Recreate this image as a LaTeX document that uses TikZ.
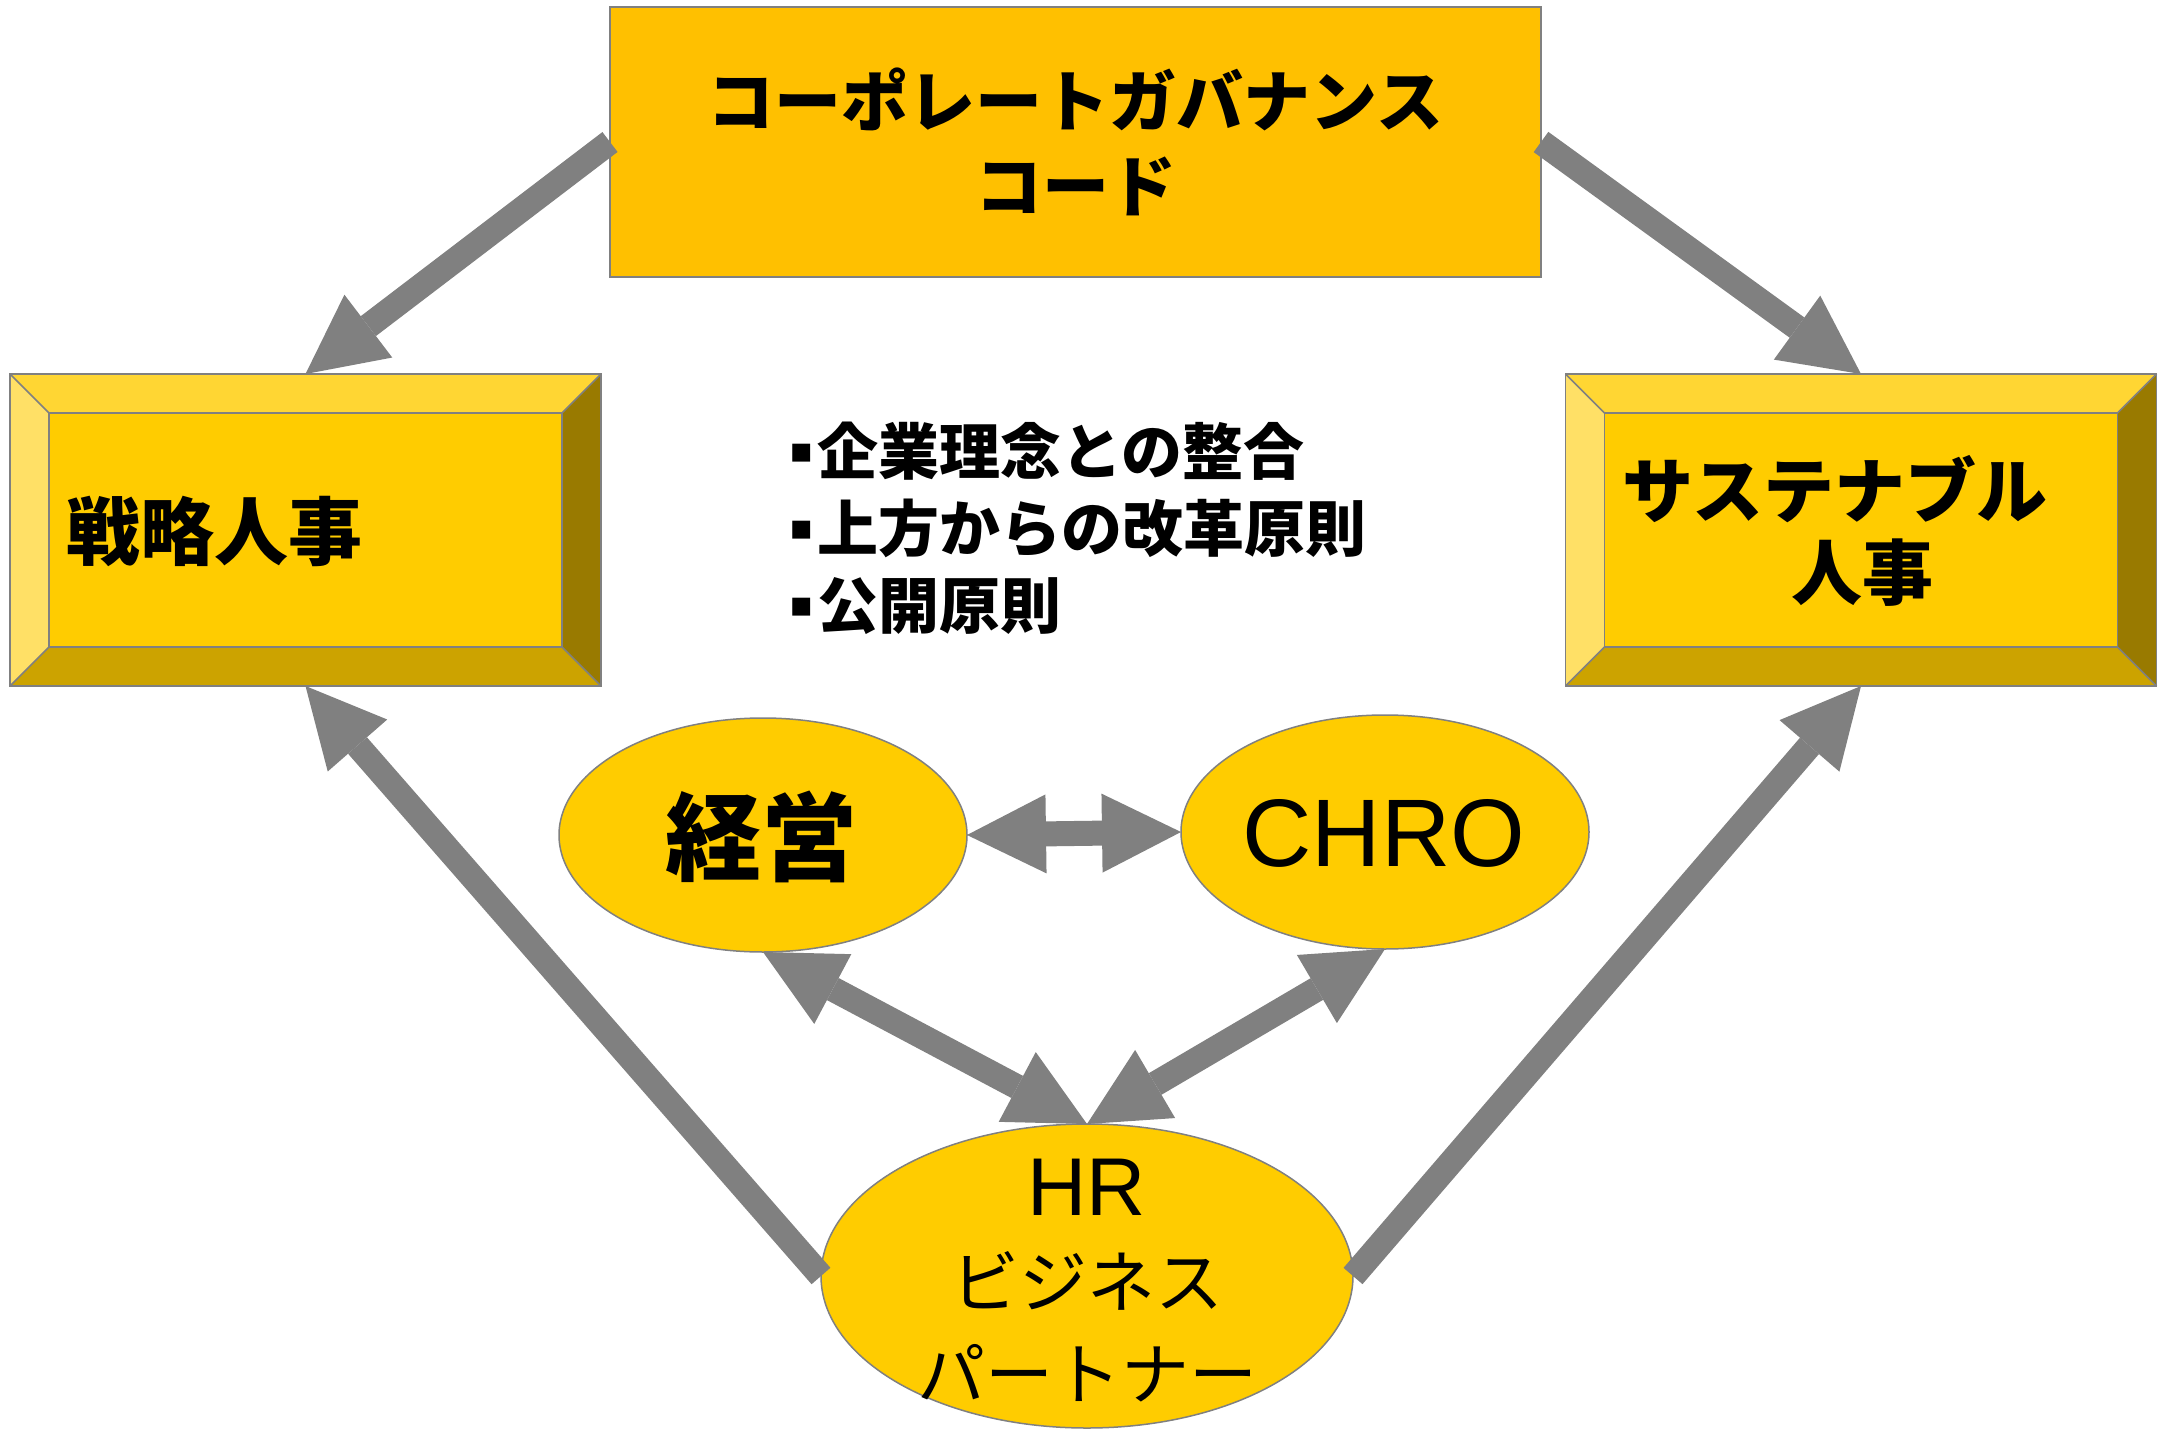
\documentclass[tikz,border=0pt]{standalone}
\usepackage{fontspec}
\usetikzlibrary{arrows.meta,shapes.geometric}
\newfontfamily\jp{Noto Sans CJK JP}
\newfontfamily\ar{Liberation Sans}
\newfontfamily\dv{DejaVu Sans}
\definecolor{gold}{HTML}{FFC000}
\definecolor{ylw}{HTML}{FFCC00}
\definecolor{bvtop}{HTML}{FFD633}
\definecolor{bvleft}{HTML}{FFE066}
\definecolor{bvbot}{HTML}{CCA300}
\definecolor{bvright}{HTML}{997A00}
\definecolor{edgegray}{HTML}{808080}
\definecolor{arrowgray}{HTML}{808080}
\newcommand\bul{\raisebox{12pt}{\dv\fontsize{36}{36}\selectfont ▪}\hspace{4pt}}
\newcommand\bevelbox[1]{%
  \fill[bvtop] (#1.north west) -- (#1.north east) -- ([shift={(-39,39)}]#1.north east) -- ([shift={(39,39)}]#1.north west) -- cycle;
  \fill[bvright] (#1.north east) -- (#1.south east) -- ([shift={(-39,-39)}]#1.south east) -- ([shift={(-39,39)}]#1.north east) -- cycle;
  \fill[bvbot] (#1.south east) -- (#1.south west) -- ([shift={(39,-39)}]#1.south west) -- ([shift={(-39,-39)}]#1.south east) -- cycle;
  \fill[bvleft] (#1.south west) -- (#1.north west) -- ([shift={(39,39)}]#1.north west) -- ([shift={(39,-39)}]#1.south west) -- cycle;
  \draw[edgeline] ([shift={(39,39)}]#1.north west) rectangle ([shift={(-39,-39)}]#1.south east);
  \draw[edgeline] (#1.north west) -- ([shift={(39,39)}]#1.north west)
                  (#1.north east) -- ([shift={(-39,39)}]#1.north east)
                  (#1.south west) -- ([shift={(39,-39)}]#1.south west)
                  (#1.south east) -- ([shift={(-39,-39)}]#1.south east);
  \draw[edgeline] (#1.north west) rectangle (#1.south east);
}
\begin{document}
\begin{tikzpicture}[x=1pt,y=-1pt,
  edgeline/.style={draw=edgegray, line width=1.5pt},
  plainbox/.style={rectangle, draw=edgegray, line width=1.5pt, inner sep=0pt, outer sep=0pt},
  bev/.style={plainbox, fill=ylw, minimum width=591pt, minimum height=312pt},
  oval/.style={ellipse, draw=edgegray, line width=1.5pt, fill=ylw, inner sep=0pt, outer sep=0pt},
  tipshape/.style={},
  arr/.style={draw=arrowgray, line width=25pt, -{Triangle[length=79pt,width=79pt,line width=0pt]}},
  darr/.style={draw=arrowgray, line width=25pt, {Triangle[length=79pt,width=79pt,line width=0pt]}-{Triangle[length=79pt,width=79pt,line width=0pt]}},
  txt/.style={inner sep=0pt, outer sep=0pt}
]
\fill[white] (0,0) rectangle (2163,1431);
\path[use as bounding box] (0,0) rectangle (2163,1431);

% bevel boxes
\node[bev] (senryaku) at (305.5,530) {};
\bevelbox{senryaku}
\node[bev] (sus) at (1861,530) {};
\bevelbox{sus}

% ellipses
\node[oval, minimum width=408pt, minimum height=234pt] (keiei) at (763,835) {};
\node[oval, minimum width=408pt, minimum height=234pt] (chro) at (1385,832) {};
\node[oval, minimum width=532pt, minimum height=304pt] (hr) at (1087,1276) {};

% top box
\node[plainbox, fill=gold, minimum width=931pt, minimum height=270pt,
      font=\jp\bfseries\fontsize{67}{85}\selectfont, align=center] (gov) at (1075.5,142)
      {コーポレートガバナンス\\コード};

% texts
\node[txt, anchor=west, font=\jp\bfseries\fontsize{74}{74}\selectfont] (senryakuT) at (66,531) {戦略人事};
\node[txt, align=center, font=\jp\bfseries\fontsize{71}{82}\selectfont] (susT) at (1835,531)
      {サステナブル\\\hspace*{54pt}人事};
\node[txt, anchor=west, align=left, font=\jp\bfseries\fontsize{61}{77}\selectfont] (points) at (789,528)
      {\bul 企業理念との整合\\\bul 上方からの改革原則\\\bul 公開原則};
\node[txt, font=\jp\bfseries\fontsize{96}{96}\selectfont] (keieiT) at (761,837) {経営};
\node[txt, font=\ar\fontsize{96}{96}\selectfont] (chroT) at (1384,833) {CHRO};
\node[txt, align=center, font=\jp\fontsize{68}{92}\selectfont] (hrT) at (1087,1281)
      {{\ar\fontsize{82}{92}\selectfont HR}\\ビジネス\\パートナー};

% arrows
\draw[arr] (gov.west) -- (senryaku.north);
\draw[arr] (gov.east) -- (sus.north);
\draw[arr] (hr.west) -- (senryaku.south);
\draw[arr] (hr.east) -- (sus.south);
\draw[darr] (keiei.east) -- (chro.west);
\draw[darr] (keiei.south) -- (hr.north);
\draw[darr] (chro.south) -- (hr.north);
\end{tikzpicture}
\end{document}
